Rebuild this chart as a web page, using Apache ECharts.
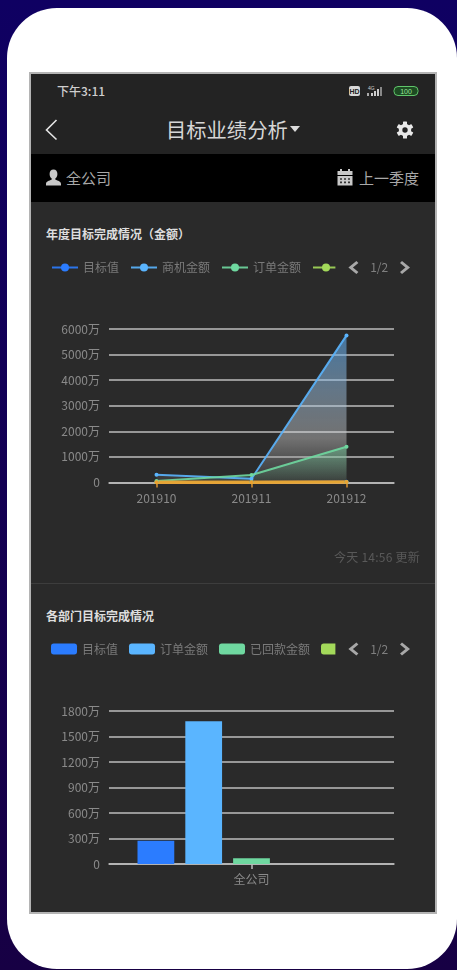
<!DOCTYPE html>
<html lang="zh-CN">
<head>
<meta charset="utf-8">
<title>目标业绩分析</title>
<script src="https://cdn.jsdelivr.net/npm/echarts@6/dist/echarts.min.js"></script>
<style>
  html, body { margin: 0; padding: 0; width: 457px; height: 970px; overflow: hidden; }
  body { background: linear-gradient(#0f0062, #170044); font-family: "Noto Sans CJK SC", "Noto Sans", sans-serif; position: relative; }
  .abs { position: absolute; white-space: nowrap; }
  #phone { left: 7px; top: 8px; width: 450px; height: 961px; background: #fff; border-radius: 50px; }
  #screen { left: 29px; top: 72px; width: 404px; height: 838px; background: #2a2a2a; border: 2px solid #b4b4b4; }
  #nav { left: 31px; top: 74px; width: 404px; height: 80px; background: #232323; }
  #filter { left: 31px; top: 154px; width: 404px; height: 48px; background: #000; }
  #divider { left: 31px; top: 583px; width: 404px; height: 1px; background: #3d3d3d; }
  .chart { left: 31px; width: 404px; }
  #lineChart { top: 203px; height: 380px; }
  #barChart { top: 584px; height: 326px; }
  .heading { font-size: 12px; font-weight: 700; color: #dedede; line-height: 16px; }
  .filter { font-size: 15px; color: #a8a8a8; line-height: 20px; }
</style>
</head>
<body>
<div class="abs" id="phone"></div>
<div class="abs" id="screen"></div>
<div class="abs" id="nav"></div>
<div class="abs" id="filter"></div>
<div class="abs" id="divider"></div>

<div class="abs" style="left:57px;top:83px;font-size:12px;font-weight:500;color:#cfcfcf;line-height:16px">下午3:11</div>
<svg class="abs" style="left:349px;top:85px" width="72" height="13" viewBox="0 0 72 13">
  <rect x="0" y="1" width="11" height="10" rx="2" fill="#d8d8d8"/>
  <text x="5.5" y="9" font-size="7" font-weight="700" text-anchor="middle" fill="#222" font-family="Liberation Sans">HD</text>
  <text x="19" y="5" font-size="5" fill="#cfcfcf" font-family="Liberation Sans">4G</text>
  <rect x="18" y="8" width="2" height="3" fill="#aaa"/><rect x="22" y="8" width="2" height="3" fill="#ccc"/>
  <rect x="25" y="6" width="2" height="5" fill="#ccc"/><rect x="28" y="4" width="2" height="7" fill="#ccc"/><rect x="31" y="2" width="2" height="9" fill="#888"/>
  <rect x="45" y="1.5" width="24" height="9" rx="4" fill="#1d4a22" stroke="#5fc56a"/>
  <text x="57" y="9" font-size="7" text-anchor="middle" fill="#9be29f" font-family="Liberation Sans">100</text>
</svg>

<svg class="abs" style="left:44px;top:118px" width="16" height="24" viewBox="0 0 16 24"><path d="M12.5 2 L2.5 12 L12.5 21.5" fill="none" stroke="#e4e4e4" stroke-width="1.6"/></svg>
<div class="abs" style="left:166px;top:115px;font-size:20.3px;color:#d6d6d6;line-height:28px">目标业绩分析</div>
<svg class="abs" style="left:290px;top:126px" width="10" height="7"><path d="M0 0H10L5 6Z" fill="#dcdcdc"/></svg>
<svg class="abs" style="left:396px;top:121px" width="18" height="18" viewBox="0 0 18 18">
  <g fill="#e8e8e8"><circle cx="9" cy="9" r="6.2"/>
    <rect x="7" y="0.5" width="4" height="17" rx="0.6"/>
    <rect x="7" y="0.5" width="4" height="17" rx="0.6" transform="rotate(60 9 9)"/>
    <rect x="7" y="0.5" width="4" height="17" rx="0.6" transform="rotate(120 9 9)"/></g>
  <circle cx="9" cy="9" r="2.7" fill="#232323"/>
</svg>

<svg class="abs" style="left:45px;top:169px" width="17" height="17" viewBox="0 0 17 17"><path d="M8.5 0.5c2.6 0 3.9 2 3.9 4.4 0 2-.9 3.6-2 4.4v1.4c2.4.9 5.6 1.5 5.6 4.3v1.5H1v-1.5c0-2.8 3.2-3.4 5.6-4.3V9.3c-1.1-.8-2-2.4-2-4.4C4.6 2.5 5.9.5 8.5.5z" fill="#c8c8c8"/></svg>
<div class="abs filter" style="left:66px;top:168px">全公司</div>
<svg class="abs" style="left:337px;top:169px" width="16" height="17" viewBox="0 0 16 17">
  <rect x="0.5" y="2" width="15" height="4" fill="#c8c8c8"/><rect x="3" y="0" width="2" height="3" fill="#c8c8c8"/><rect x="11" y="0" width="2" height="3" fill="#c8c8c8"/>
  <rect x="0.5" y="7" width="15" height="9.5" fill="#c8c8c8"/>
  <path d="M3 9.2h2v1.6H3zM7 9.2h2v1.6H7zM11 9.2h2v1.6h-2zM3 12.6h2v1.6H3zM7 12.6h2v1.6H7zM11 12.6h2v1.6h-2z" fill="#333"/>
</svg>
<div class="abs filter" style="left:359px;top:168px">上一季度</div>

<div class="abs heading" style="left:46px;top:226px">年度目标完成情况（金额）</div>
<div class="abs chart" id="lineChart"></div>
<div class="abs" style="left:334px;top:549px;font-size:12px;letter-spacing:0.25px;color:#595959;line-height:16px">今天 14:56 更新</div>

<div class="abs heading" style="left:46px;top:608px">各部门目标完成情况</div>
<div class="abs chart" id="barChart"></div>

<script>
// 年度目标：月份与各指标（单位：万）
const months = ['201910', '201911', '201912'];
const lineNames = ['目标值', '商机金额', '订单金额', '已回款金额', '未回款金额'];
const lineTarget = [20, 20, 30];
const lineOpportunity = [300, 145, 5750];
const lineOrder = [60, 290, 1400];
const lineReceived = [10, 10, 20];
const lineOutstanding = [5, 5, 15];

// 各部门：部门与各指标（单位：万）
const departments = ['全公司'];
const barNames = ['目标值', '订单金额', '已回款金额', '未回款金额', '商机金额'];
const barTarget = [275];
const barOrder = [1680];
const barReceived = [67];
const barOutstanding = [0];
const barOpportunity = [0];

const yTicksLine = { max: 6000, interval: 1000 };
const yTicksBar = { max: 1800, interval: 300 };

const palette = ['#2b7cff', '#5ab5ff', '#6fd8a0', '#a3d95a', '#eda12f'];
const chevrons = [
  'path://M8 0 L10 2 L4.5 6.5 L10 11 L8 13 L0 6.5 Z',
  'path://M2 0 L0 2 L5.5 6.5 L0 11 L2 13 L10 6.5 Z'
];
const font = '"Noto Sans CJK SC", "Noto Sans", sans-serif';
const gridColor = '#bdbdbd';

function legendOf(top, symbolHeight) {
  return {
    type: 'scroll', orient: 'horizontal', left: 20, top: top, width: 359, padding: 0,
    itemWidth: 26, itemHeight: symbolHeight, itemGap: 11,
    textStyle: { color: '#7a7a7a', fontSize: 12, fontFamily: font },
    pageIcons: { horizontal: chevrons },
    pageIconSize: [10, 13], pageIconColor: '#a8a8a8', pageIconInactiveColor: '#a8a8a8',
    pageTextStyle: { color: '#7f7f7f', fontSize: 12, fontFamily: font },
    pageButtonItemGap: 6.5, pageButtonGap: 13
  };
}
function valueAxis(ticks) {
  return {
    type: 'value', min: 0, max: ticks.max, interval: ticks.interval,
    axisLine: { show: false }, axisTick: { show: false },
    axisLabel: { color: '#8a8a8a', fontSize: 12, margin: 9, fontFamily: font,
      formatter: v => (v === 0 ? '0' : v + '万') },
    splitLine: { lineStyle: { color: gridColor, width: 1.5 } }
  };
}
function categoryAxis(data, tickColor, margin) {
  return {
    type: 'category', data: data,
    axisLine: { lineStyle: { color: gridColor, width: 1.5 } },
    axisTick: { show: true, alignWithLabel: true, length: 5, lineStyle: { color: tickColor, width: 1.5 } },
    axisLabel: { color: '#8a8a8a', fontSize: 12, margin: margin, fontFamily: font }
  };
}
function gradient(stops) {
  return new echarts.graphic.LinearGradient(0, 0, 0, 1, stops);
}

const lineData = [lineTarget, lineOpportunity, lineOrder, lineReceived, lineOutstanding];
const lineWidths = [2, 2, 2, 2, 3.5];
const lineAreas = [
  null,
  gradient([{ offset: 0, color: 'rgba(90,170,240,0.85)' }, { offset: 0.7, color: 'rgba(215,215,215,0.6)' }, { offset: 1, color: 'rgba(90,90,90,0.4)' }]),
  gradient([{ offset: 0, color: 'rgba(110,220,160,0.6)' }, { offset: 1, color: 'rgba(110,220,160,0.05)' }]),
  null, null
];
echarts.init(document.getElementById('lineChart')).setOption({
  animation: false,
  color: palette,
  legend: legendOf(58, 10),
  grid: { left: 78, right: 41, top: 126, height: 153.5 },
  xAxis: categoryAxis(months, '#d9902f', 10),
  yAxis: valueAxis(yTicksLine),
  series: lineNames.map((name, i) => ({
    name: name, type: 'line', data: lineData[i],
    symbol: 'circle', symbolSize: 4, showSymbol: true,
    lineStyle: { width: lineWidths[i], opacity: 0.9 },
    areaStyle: lineAreas[i] ? { color: lineAreas[i] } : undefined
  }))
});

const barData = [barTarget, barOrder, barReceived, barOutstanding, barOpportunity];
echarts.init(document.getElementById('barChart')).setOption({
  animation: false,
  color: palette,
  legend: legendOf(58.5, 11),
  grid: { left: 78, right: 41, top: 127, height: 153 },
  xAxis: categoryAxis(departments, gridColor, 9),
  yAxis: valueAxis(yTicksBar),
  series: barNames.map((name, i) => ({
    name: name, type: 'bar', data: barData[i], barGap: '30%', barCategoryGap: '20%'
  }))
});
</script>
</body>
</html>
